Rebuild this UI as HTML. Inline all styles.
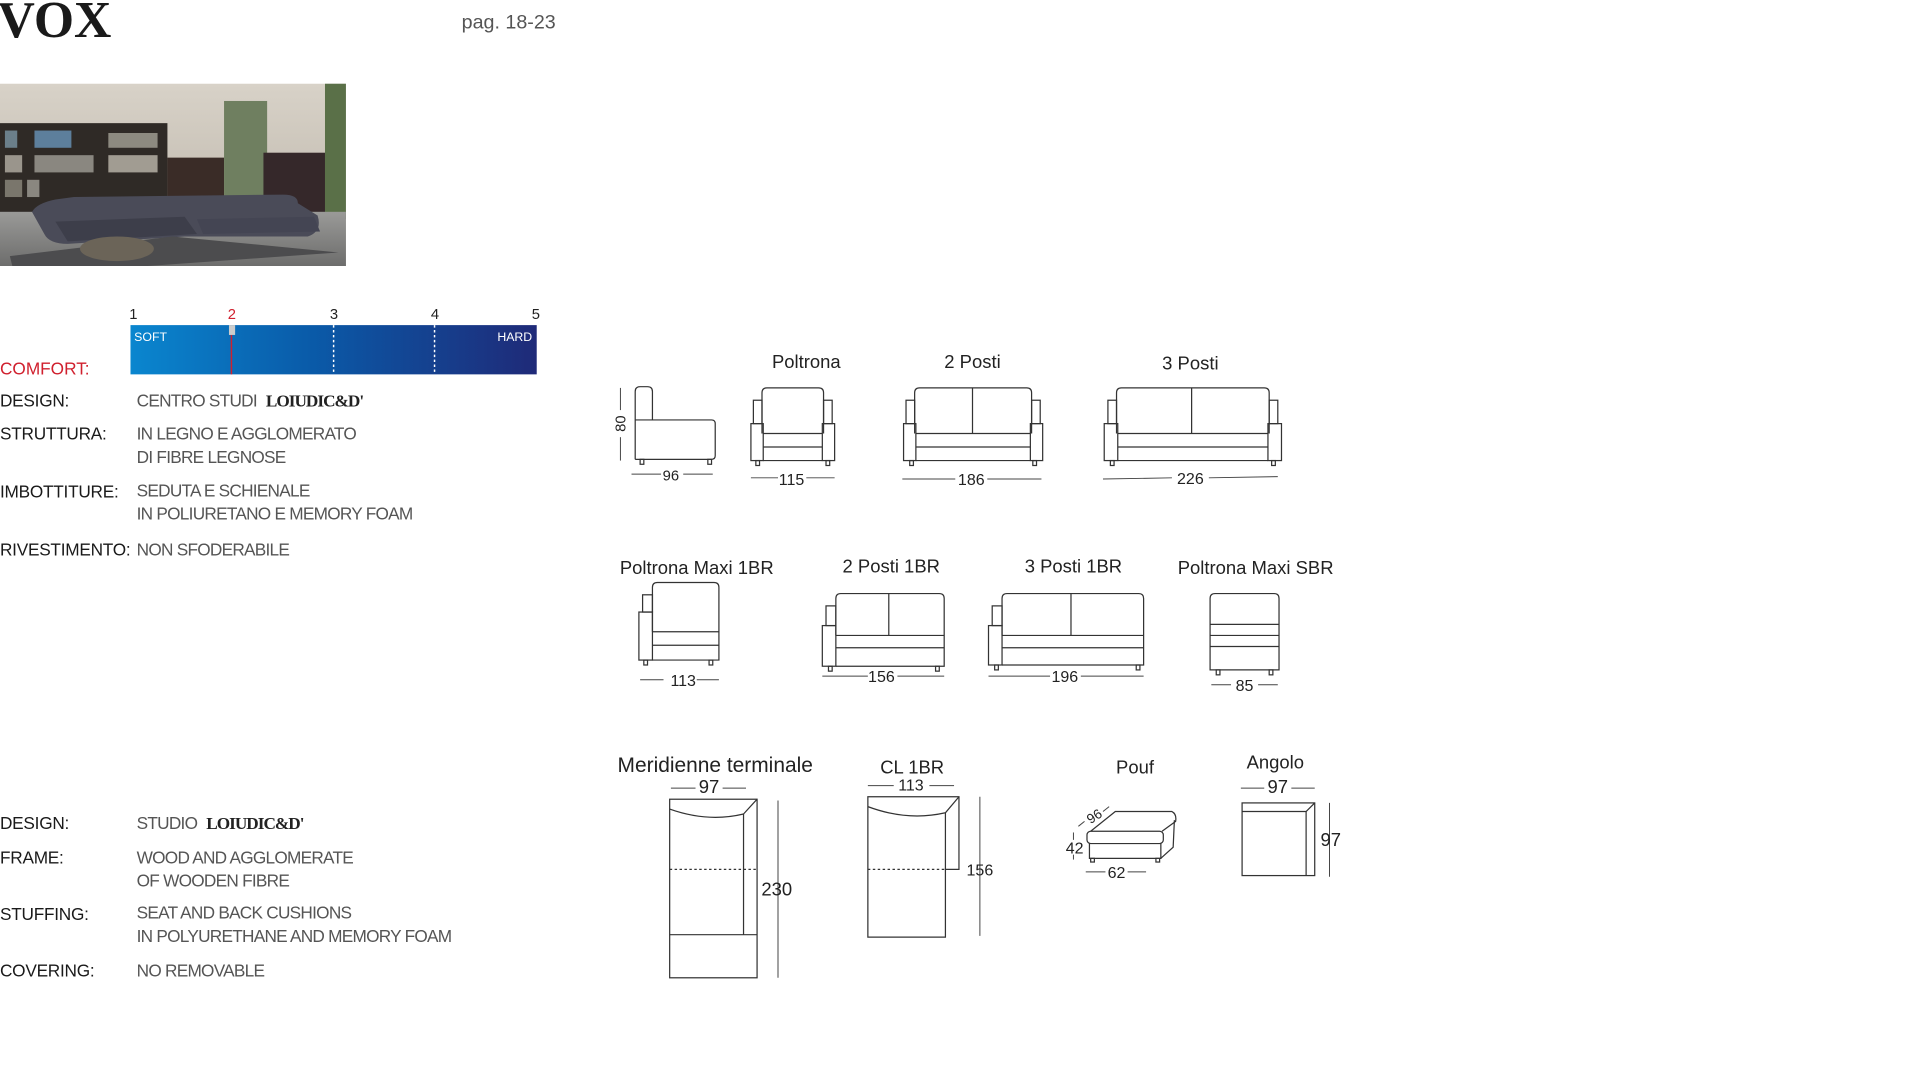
<!DOCTYPE html>
<html><head><meta charset="utf-8"><style>
html,body{margin:0;padding:0;background:#fff;width:1929px;height:1080px;overflow:hidden}
svg{display:block}
.s{fill:none;stroke:#333;stroke-width:1}
.t{font-family:"Liberation Sans",sans-serif;fill:#222}
.lab{font-family:"Liberation Sans",sans-serif;font-size:14px;fill:#1a1a1a;letter-spacing:-0.2px}
.val{font-family:"Liberation Sans",sans-serif;font-size:14px;fill:#555;letter-spacing:-0.6px}
.br{font-family:"Liberation Serif",serif;font-weight:bold;font-size:14px;fill:#222;letter-spacing:-0.8px}
.d{font-family:"Liberation Sans",sans-serif;fill:#222;text-anchor:middle}
.dl{stroke:#444;stroke-width:0.8}
</style></head><body>
<svg width="1929" height="1080" viewBox="0 0 1567 877" preserveAspectRatio="none" xmlns="http://www.w3.org/2000/svg">
<defs>
<linearGradient id="bar" x1="0" x2="1" y1="0" y2="0">
<stop offset="0" stop-color="#0a86cf"/><stop offset="0.45" stop-color="#0a5aa8"/><stop offset="1" stop-color="#1f2a78"/>
</linearGradient>
<linearGradient id="wall" x1="0" x2="0" y1="0" y2="1">
<stop offset="0" stop-color="#d8d2c8"/><stop offset="1" stop-color="#b9b2a6"/>
</linearGradient>
<linearGradient id="floor" x1="0" x2="0" y1="0" y2="1">
<stop offset="0" stop-color="#9a9a98"/><stop offset="1" stop-color="#6d6d6c"/>
</linearGradient>
</defs>

<text x="-2" y="30" style="font-family:'Liberation Serif',serif;font-weight:bold;font-size:42px;fill:#1a1a1a">VOX</text>
<text x="375" y="23" class="t" style="font-size:16px;fill:#555">pag. 18-23</text>

<!-- photo -->
<g>
<rect x="0" y="68" width="281" height="148" fill="url(#wall)"/>
<rect x="0" y="100" width="136" height="95" fill="#2f2a26"/>
<rect x="4" y="106" width="10" height="14" fill="#6b7f8a"/><rect x="28" y="106" width="30" height="14" fill="#5d7f9c"/><rect x="88" y="108" width="40" height="12" fill="#8d8a80"/>
<rect x="4" y="126" width="14" height="14" fill="#9a958c"/><rect x="28" y="126" width="48" height="14" fill="#8a8780"/><rect x="88" y="126" width="40" height="14" fill="#a19c92"/>
<rect x="4" y="146" width="14" height="14" fill="#7a766c"/><rect x="22" y="146" width="10" height="14" fill="#8a8780"/>
<rect x="136" y="128" width="46" height="44" fill="#3a2c27"/>
<rect x="182" y="82" width="35" height="93" fill="#6f7f60"/>
<rect x="214" y="124" width="50" height="50" fill="#35282a"/>
<rect x="264" y="68" width="17" height="110" fill="#5a7048"/>
<rect x="0" y="172" width="281" height="44" fill="url(#floor)"/>
<path d="M26 172 Q30 165 45 162 L60 160 L230 158 Q242 158 242 165 L258 175 Q262 188 250 192 L150 192 L55 198 Q40 198 36 190 Z" fill="#4a4b58"/>
<path d="M45 180 L150 176 L160 190 L55 196 Z" fill="#3d3e4a"/>
<path d="M160 178 L255 176 L260 188 L165 190 Z" fill="#444553"/>
<path d="M8 208 L140 192 L275 205 L120 216 L10 216 Z" fill="#4c4c4e"/>
<ellipse cx="95" cy="202" rx="30" ry="10" fill="#6b6458"/>
</g>

<!-- comfort -->
<g class="t" style="font-size:12px">
<text x="105" y="259">1</text><text x="185" y="259" style="fill:#d0202e">2</text><text x="268" y="259">3</text><text x="350" y="259">4</text><text x="432" y="259">5</text>
</g>
<rect x="106" y="264" width="330" height="40" fill="url(#bar)"/>
<line x1="188" y1="270" x2="188" y2="304" stroke="#d0202e" stroke-width="1.2"/>
<rect x="186" y="264" width="5" height="8" fill="#ccc"/>
<line x1="271" y1="264" x2="271" y2="304" stroke="#fff" stroke-width="1.2" stroke-dasharray="2,2"/>
<line x1="353" y1="264" x2="353" y2="304" stroke="#fff" stroke-width="1.2" stroke-dasharray="2,2"/>
<text x="109" y="277" class="t" style="font-size:10px;fill:#fff">SOFT</text>
<text x="404" y="277" class="t" style="font-size:10px;fill:#fff">HARD</text>
<text x="0" y="304" class="t" style="font-size:14px;fill:#d0202e">COMFORT:</text>

<text x="0" y="330" class="lab">DESIGN:</text><text x="111" y="330" class="val">CENTRO STUDI <tspan class="br" dx="4">LOIUDIC&amp;D'</tspan></text>
<text x="0" y="357" class="lab">STRUTTURA:</text><text x="111" y="357" class="val">IN LEGNO E AGGLOMERATO</text><text x="111" y="376" class="val">DI FIBRE LEGNOSE</text>
<text x="0" y="404" class="lab">IMBOTTITURE:</text><text x="111" y="403" class="val">SEDUTA E SCHIENALE</text><text x="111" y="422" class="val">IN POLIURETANO E MEMORY FOAM</text>
<text x="0" y="451" class="lab">RIVESTIMENTO:</text><text x="111" y="451" class="val">NON SFODERABILE</text>

<text x="0" y="673" class="lab">DESIGN:</text><text x="111" y="673" class="val">STUDIO <tspan class="br" dx="4">LOIUDIC&amp;D'</tspan></text>
<text x="0" y="701" class="lab">FRAME:</text><text x="111" y="701" class="val">WOOD AND AGGLOMERATE</text><text x="111" y="720" class="val">OF WOODEN FIBRE</text>
<text x="0" y="747" class="lab">STUFFING:</text><text x="111" y="746" class="val">SEAT AND BACK CUSHIONS</text><text x="111" y="765" class="val">IN POLYURETHANE AND MEMORY FOAM</text>
<text x="0" y="793" class="lab">COVERING:</text><text x="111" y="793" class="val">NO REMOVABLE</text>

<!-- labels -->
<g class="d" style="font-size:15px">
<text x="655" y="299">Poltrona</text><text x="790" y="299">2 Posti</text><text x="967" y="300">3 Posti</text>
<text x="566" y="466">Poltrona Maxi 1BR</text><text x="724" y="465">2 Posti 1BR</text><text x="872" y="465">3 Posti 1BR</text><text x="1020" y="466">Poltrona Maxi SBR</text>
<text x="581" y="627" style="font-size:17px">Meridienne terminale</text><text x="741" y="628">CL 1BR</text><text x="922" y="628">Pouf</text><text x="1036" y="624">Angolo</text>
</g>

<!-- side view -->
<g class="s">
<path d="M516 373 L516 318 Q516 314 520 314 L526 314 Q530 314 530 318 L530 341"/>
<path d="M516 341 L578 341 Q581 341 581 344 L581 370 Q581 373 578 373 L516 373"/>
<rect x="520" y="373" width="3" height="4"/><rect x="575" y="373" width="3" height="4"/>
</g>
<line class="dl" x1="504" y1="315" x2="504" y2="333"/><line class="dl" x1="504" y1="355" x2="504" y2="374"/>
<text class="d" style="font-size:12px" transform="translate(508,344) rotate(-90)">80</text>
<line class="dl" x1="513" y1="385" x2="537" y2="385"/><line class="dl" x1="555" y1="385" x2="579" y2="385"/>
<text class="d" x="545" y="390" style="font-size:12px">96</text>

<!-- Poltrona -->
<g class="s" transform="translate(610,315)">
<path d="M9 37 L9 4 Q9 0 13 0 L55 0 Q59 0 59 4 L59 37"/>
<rect x="2" y="10" width="7" height="19"/><rect x="59" y="10" width="7" height="19"/>
<rect x="0" y="29" width="10" height="30"/><rect x="58" y="29" width="10" height="30"/>
<line x1="10" y1="37" x2="58" y2="37"/><line x1="10" y1="48" x2="58" y2="48"/><line x1="10" y1="59" x2="58" y2="59"/>
<rect x="4" y="59" width="3" height="4"/><rect x="61" y="59" width="3" height="4"/>
</g>
<line class="dl" x1="610" y1="388" x2="632" y2="388"/><line class="dl" x1="655" y1="388" x2="678" y2="388"/>
<text class="d" x="643" y="394" style="font-size:13px">115</text>

<!-- 2 Posti -->
<g class="s" transform="translate(734,315)">
<path d="M9 37 L9 4 Q9 0 13 0 L100 0 Q104 0 104 4 L104 37"/><line x1="56" y1="0" x2="56" y2="37"/>
<rect x="2" y="10" width="7" height="19"/><rect x="104" y="10" width="7" height="19"/>
<rect x="0" y="29" width="10" height="30"/><rect x="103" y="29" width="10" height="30"/>
<line x1="10" y1="37" x2="103" y2="37"/><line x1="10" y1="48" x2="103" y2="48"/><line x1="10" y1="59" x2="103" y2="59"/>
<rect x="5" y="59" width="3" height="4"/><rect x="105" y="59" width="3" height="4"/>
</g>
<line class="dl" x1="733" y1="389" x2="776" y2="389"/><line class="dl" x1="802" y1="389" x2="846" y2="389"/>
<text class="d" x="789" y="394" style="font-size:13px">186</text>

<!-- 3 Posti -->
<g class="s" transform="translate(897,315)">
<path d="M10 37 L10 4 Q10 0 14 0 L130 0 Q134 0 134 4 L134 37"/><line x1="71" y1="0" x2="71" y2="37"/>
<rect x="3" y="10" width="7" height="19"/><rect x="134" y="10" width="7" height="19"/>
<rect x="0" y="29" width="11" height="30"/><rect x="133" y="29" width="11" height="30"/>
<line x1="11" y1="37" x2="133" y2="37"/><line x1="11" y1="48" x2="133" y2="48"/><line x1="11" y1="59" x2="133" y2="59"/>
<rect x="5" y="59" width="3" height="4"/><rect x="136" y="59" width="3" height="4"/>
</g>
<line class="dl" x1="896" y1="389" x2="952" y2="388"/><line class="dl" x1="982" y1="388" x2="1038" y2="387"/>
<text class="d" x="967" y="393" style="font-size:13px">226</text>

<!-- Poltrona Maxi 1BR -->
<g class="s" transform="translate(519,473)">
<path d="M11 40 L11 4 Q11 0 15 0 L61 0 Q65 0 65 4 L65 63 L11 63"/>
<rect x="3" y="10" width="8" height="14"/><rect x="0" y="24" width="11" height="39"/>
<line x1="11" y1="40" x2="65" y2="40"/><line x1="11" y1="51" x2="65" y2="51"/>
<rect x="4" y="63" width="3" height="4"/><rect x="57" y="63" width="3" height="4"/>
</g>
<line class="dl" x1="520" y1="552" x2="539" y2="552"/><line class="dl" x1="566" y1="552" x2="584" y2="552"/>
<text class="d" x="555" y="557" style="font-size:13px">113</text>

<!-- 2 Posti 1BR -->
<g class="s" transform="translate(668,482)">
<path d="M11 34 L11 4 Q11 0 15 0 L95 0 Q99 0 99 4 L99 59 L11 59"/><line x1="54" y1="0" x2="54" y2="34"/>
<rect x="3" y="10" width="8" height="16"/><rect x="0" y="26" width="11" height="33"/>
<line x1="11" y1="34" x2="99" y2="34"/><line x1="11" y1="44" x2="99" y2="44"/>
<rect x="5" y="59" width="3" height="4"/><rect x="92" y="59" width="3" height="4"/>
</g>
<line class="dl" x1="668" y1="549" x2="705" y2="549"/><line class="dl" x1="729" y1="549" x2="767" y2="549"/>
<text class="d" x="716" y="554" style="font-size:13px">156</text>

<!-- 3 Posti 1BR -->
<g class="s" transform="translate(803,482)">
<path d="M11 34 L11 4 Q11 0 15 0 L122 0 Q126 0 126 4 L126 58 L11 58"/><line x1="67" y1="0" x2="67" y2="34"/>
<rect x="3" y="10" width="8" height="16"/><rect x="0" y="26" width="11" height="32"/>
<line x1="11" y1="34" x2="126" y2="34"/><line x1="11" y1="44" x2="126" y2="44"/>
<rect x="5" y="58" width="3" height="4"/><rect x="120" y="58" width="3" height="4"/>
</g>
<line class="dl" x1="803" y1="549" x2="853" y2="549"/><line class="dl" x1="878" y1="549" x2="929" y2="549"/>
<text class="d" x="865" y="554" style="font-size:13px">196</text>

<!-- Poltrona Maxi SBR -->
<g class="s" transform="translate(983,482)">
<path d="M0 62 L0 4 Q0 0 4 0 L52 0 Q56 0 56 4 L56 62 Z"/>
<line x1="0" y1="25" x2="56" y2="25"/><line x1="0" y1="34" x2="56" y2="34"/><line x1="0" y1="43" x2="56" y2="43"/>
<rect x="5" y="62" width="3" height="4"/><rect x="48" y="62" width="3" height="4"/>
</g>
<line class="dl" x1="984" y1="556" x2="1000" y2="556"/><line class="dl" x1="1022" y1="556" x2="1038" y2="556"/>
<text class="d" x="1011" y="561" style="font-size:13px">85</text>

<!-- Meridienne -->
<line class="dl" x1="545" y1="640" x2="565" y2="640"/><line class="dl" x1="587" y1="640" x2="606" y2="640"/>
<text class="d" x="576" y="644" style="font-size:15px">97</text>
<g class="s">
<rect x="544" y="649" width="71" height="145"/>
<path d="M544 657 Q575 668 604 661 L615 649"/>
<line x1="604" y1="661" x2="604" y2="759"/><line x1="544" y1="759" x2="615" y2="759"/>
<line x1="544" y1="706" x2="615" y2="706" stroke-dasharray="2,2"/>
</g>
<line class="dl" x1="632" y1="650" x2="632" y2="794"/>
<text class="d" x="631" y="727" style="font-size:15px">230</text>

<!-- CL 1BR -->
<line class="dl" x1="705" y1="638" x2="726" y2="638"/><line class="dl" x1="755" y1="638" x2="775" y2="638"/>
<text class="d" x="740" y="642" style="font-size:13px">113</text>
<g class="s">
<path d="M705 761 L705 647 L779 647 L779 706 L768 706 L768 761 Z"/>
<path d="M705 655 Q737 667 768 660 L779 647"/>
<line x1="768" y1="660" x2="768" y2="706"/>
<line x1="705" y1="706" x2="768" y2="706" stroke-dasharray="2,2"/>
</g>
<line class="dl" x1="796" y1="647" x2="796" y2="760"/>
<text class="d" x="796" y="711" style="font-size:13px">156</text>

<!-- Pouf -->
<g class="s">
<path d="M886 675 L906 659 L952 659 Q956 661 955 667 L944 675"/>
<rect x="883" y="675" width="62" height="10" rx="3"/>
<path d="M885 685 L885 697 L943 697 L943 685"/><path d="M943 697 L953 688 L954 666"/>
<rect x="886" y="697" width="3" height="3"/><rect x="939" y="697" width="3" height="3"/>
</g>
<line class="dl" x1="876" y1="671" x2="881" y2="667"/><line class="dl" x1="896" y1="659" x2="901" y2="655"/>
<text class="d" style="font-size:11px" transform="translate(891,666) rotate(-33)">96</text>
<line class="dl" x1="872" y1="676" x2="872" y2="682"/><line class="dl" x1="872" y1="694" x2="872" y2="698"/>
<text class="d" x="873" y="693" style="font-size:13px">42</text>
<line class="dl" x1="882" y1="708" x2="898" y2="708"/><line class="dl" x1="916" y1="708" x2="931" y2="708"/>
<text class="d" x="907" y="713" style="font-size:13px">62</text>

<!-- Angolo -->
<line class="dl" x1="1008" y1="640" x2="1027" y2="640"/><line class="dl" x1="1049" y1="640" x2="1068" y2="640"/>
<text class="d" x="1038" y="644" style="font-size:15px">97</text>
<g class="s">
<rect x="1009" y="652" width="59" height="59"/>
<path d="M1009 659 L1061 659 L1068 652"/><line x1="1061" y1="659" x2="1061" y2="711"/>
</g>
<line class="dl" x1="1080" y1="652" x2="1080" y2="712"/>
<text class="d" x="1081" y="687" style="font-size:15px">97</text>
</svg>
</body></html>
